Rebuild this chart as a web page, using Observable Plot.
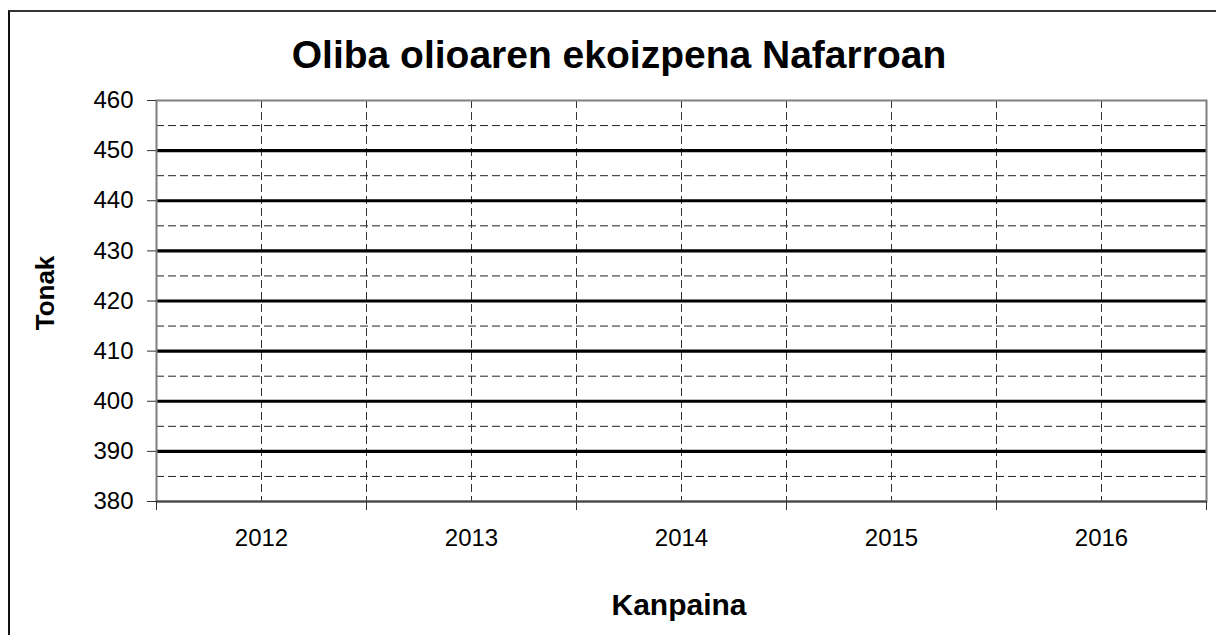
<!DOCTYPE html>
<html><head><meta charset="utf-8">
<script src="https://cdn.jsdelivr.net/npm/d3@7"></script>
<script src="https://cdn.jsdelivr.net/npm/@observablehq/plot@0.6"></script>
<style>
body{margin:0;background:#fff;font-family:"Liberation Sans",Arial,sans-serif;}
#wrap{position:relative;width:1216px;height:635px;overflow:hidden;background:#fff;}
#border{position:absolute;left:8px;top:10px;width:1300px;height:700px;border-left:2px solid #111;border-top:2px solid #333;}
#title{position:absolute;left:0;top:35px;width:1238px;text-align:center;font-weight:bold;font-size:39px;line-height:39px;color:#000;}
#xlabel{position:absolute;left:154px;top:590px;width:1050px;text-align:center;font-weight:bold;font-size:30px;line-height:30px;color:#000;}
#chart{position:absolute;left:0;top:80px;}
</style>
</head><body>
<div id="wrap">
  <div id="border"></div>
  <div id="title"></div>
  <div id="chart"></div>
  <div id="xlabel"></div>
</div>
<script>
const chartTitle = "Oliba olioaren ekoizpena Nafarroan";
const xTitle = "Kanpaina";
const yTitle = "Tonak";
const categories = ["2012", "2013", "2014", "2015", "2016"];
const yTicks = [380, 390, 400, 410, 420, 430, 440, 450, 460];
const yMajorGrid = [390, 400, 410, 420, 430, 440, 450];
const yMinorGrid = [385, 395, 405, 415, 425, 435, 445, 455];
const values = []; // the reference chart shows no data

document.getElementById("title").textContent = chartTitle;
document.getElementById("xlabel").textContent = xTitle;

const n = categories.length;
const centers = categories.map((c, i) => i + 0.5);
const bounds = d3.range(n + 1);
const innerBounds = bounds.slice(1, -1);

const plot = Plot.plot({
  width: 1216, height: 555,
  marginTop: 20, marginBottom: 134, marginLeft: 156, marginRight: 10,
  style: {fontFamily: "'Liberation Sans', Arial, sans-serif", fontSize: "24px", color: "#000", background: "transparent"},
  x: {type: "linear", domain: [0, n]},
  y: {domain: [380, 460]},
  marks: [
    Plot.ruleY(yMinorGrid, {stroke: "#222", strokeWidth: 1, strokeDasharray: "8,4"}),
    Plot.ruleX([...centers, ...innerBounds], {stroke: "#333", strokeWidth: 1, strokeDasharray: "8,4"}),
    Plot.ruleY(yMajorGrid, {stroke: "#000", strokeWidth: 3.2}),
    Plot.frame({stroke: "#7f7f7f", strokeWidth: 2}),
    Plot.ruleY([380], {stroke: "#444", strokeWidth: 2}),
    Plot.axisY(yTicks, {tickSize: 9, tickPadding: 14, stroke: "#333", fontSize: 24, label: null}),
    Plot.axisX(bounds, {tickSize: 9, tickFormat: () => "", stroke: "#333", label: null}),
    Plot.axisX(centers, {tickSize: 0, tickPadding: 27, tickFormat: d => categories[Math.floor(d)], fontSize: 24, label: null}),
    Plot.text([yTitle], {frameAnchor: "left", textAnchor: "middle", rotate: -90, dx: -111, dy: -8, fontWeight: "bold", fontSize: 26, fill: "#000"})
  ]
});
document.getElementById("chart").appendChild(plot);
</script>
</body></html>
